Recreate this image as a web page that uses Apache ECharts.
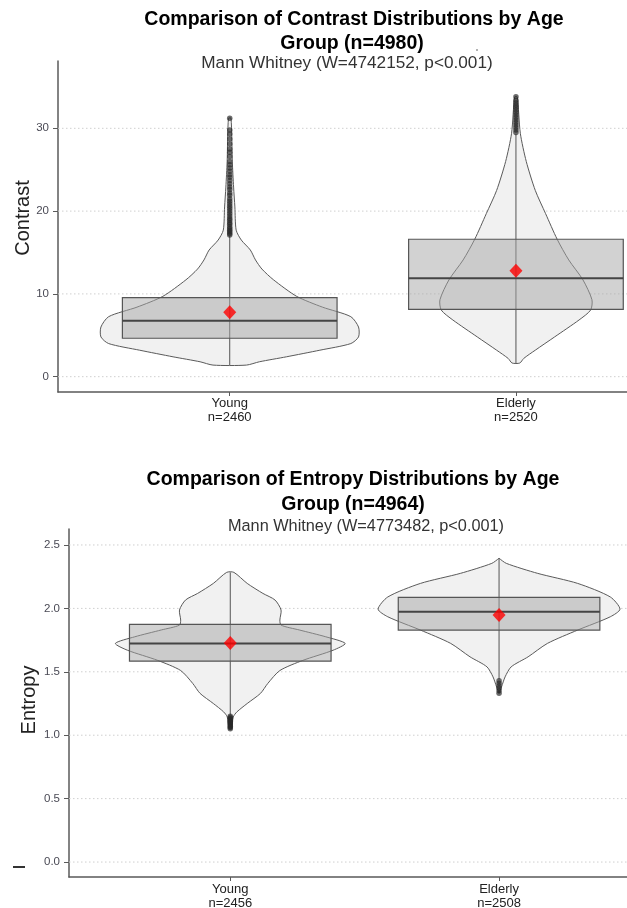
<!DOCTYPE html>
<html><head><meta charset="utf-8">
<script src="https://cdn.jsdelivr.net/npm/echarts@6/dist/echarts.min.js"></script>
<style>html,body{margin:0;padding:0;background:#fff}#c{width:627px;height:908px}</style>
</head><body><div id="c"></div>
<script>
// ---------------- data ----------------
const groups = ['Young', 'Elderly'];
const contrastN = [2460, 2520];
const entropyN = [2456, 2508];
const contrastTicks = [0, 10, 20, 30];
const entropyTicks = [0, 0.5, 1.0, 1.5, 2.0, 2.5];

// box stats: [lowerWhisker, Q1, median, Q3, upperWhisker]
const contrastBoxYoung = [1.4, 4.64, 6.76, 9.54, 17.0];
const contrastBoxElderly = [1.65, 8.14, 11.9, 16.6, 29.3];
const contrastMean = [7.78, 12.8];
const entropyBoxYoung = [1.16, 1.584, 1.724, 1.874, 2.284];
const entropyBoxElderly = [1.44, 1.829, 1.973, 2.087, 2.395];
const entropyMean = [1.728, 1.947];

// outliers
const contrastOutYoung = [17.1, 17.3, 17.5, 17.7, 17.9, 18.1, 18.4, 18.6, 18.9, 19.1, 19.4, 19.7, 20.0, 20.3, 20.6, 20.9, 21.2, 21.5, 21.9, 22.2, 22.6, 22.9, 23.3, 23.7, 24.1, 24.4, 24.8, 25.2, 25.6, 26.0, 26.6, 27.1, 27.5, 28.1, 28.7, 29.3, 29.8, 31.2];
const contrastOutElderly = [29.5, 29.8, 30.1, 30.4, 30.7, 31.0, 31.3, 31.6, 31.9, 32.2, 32.5, 32.8, 33.1, 33.4, 33.8];
const entropyOutYoung = [1.15, 1.14, 1.13, 1.12, 1.11, 1.10, 1.09, 1.08, 1.07, 1.06, 1.05];
const entropyOutElderly = [1.43, 1.41, 1.39, 1.37, 1.35, 1.33];

// violin densities: [value, relative density]
const contrastViolinYoung = [[1.4,0.13],[1.8,0.23],[2.4,0.44],[3.2,0.70],[4.0,0.94],[4.8,1.0],[6.0,1.0],[7.25,0.94],[8.4,0.72],[9.7,0.52],[11.7,0.34],[13.0,0.25],[14.1,0.2],[15.3,0.16],[16.5,0.09],[17.7,0.05],[20.5,0.04],[22.9,0.03],[26.0,0.02],[31.2,0.01]];
const contrastViolinElderly = [[1.65,0.03],[2.2,0.06],[3.2,0.15],[4.8,0.30],[6.85,0.49],[8.05,0.58],[9.3,0.59],[11.7,0.52],[14.1,0.41],[16.6,0.32],[19.7,0.23],[22.5,0.15],[26.0,0.08],[29.4,0.034],[33.8,0.01]];
const entropyViolinYoung = [[1.05,0.01],[1.144,0.025],[1.184,0.055],[1.25,0.14],[1.33,0.25],[1.408,0.31],[1.51,0.41],[1.59,0.6],[1.67,0.85],[1.724,0.95],[1.776,0.79],[1.83,0.57],[1.868,0.42],[1.908,0.41],[1.987,0.42],[2.066,0.37],[2.118,0.27],[2.197,0.14],[2.284,0.03]];
const entropyViolinElderly = [[1.33,0.0],[1.38,0.02],[1.46,0.05],[1.539,0.10],[1.618,0.24],[1.724,0.40],[1.829,0.65],[1.934,0.92],[1.994,1.0],[2.09,0.92],[2.197,0.65],[2.276,0.32],[2.355,0.06],[2.395,0.0]];

// ---------------- rendering ----------------
const FONT = "'Liberation Sans', Arial, sans-serif";
const chart = echarts.init(document.getElementById('c'), null, {renderer: 'canvas'});

function violinSeries(gi, densities) {
  return {
    type: 'custom', xAxisIndex: gi, yAxisIndex: gi, z: 2, silent: true,
    data: densities.map((d, i) => [i + 1]),
    renderItem: function (params, api) {
      const cx = api.value(0);
      const d = densities[params.dataIndex];
      const half = 0.45;
      const pts = [];
      for (let k = 0; k < d.length; k++) pts.push(api.coord([cx + d[k][1] * half, d[k][0]]));
      for (let k = d.length - 1; k >= 0; k--) pts.push(api.coord([cx - d[k][1] * half, d[k][0]]));
      return {type: 'polygon', shape: {points: pts, smooth: 0.25},
        style: {fill: '#f1f1f1', stroke: '#5a5a5a', lineWidth: 1}};
    }
  };
}
function boxSeries(gi, boxes) {
  return {
    type: 'custom', xAxisIndex: gi, yAxisIndex: gi, z: 3, silent: true,
    data: boxes.map((b, i) => [i + 1].concat(b)),
    renderItem: function (params, api) {
      const x = api.value(0);
      const lo = api.value(1), q1 = api.value(2), med = api.value(3), q3 = api.value(4), hi = api.value(5);
      const hw = 0.375;
      const pLo = api.coord([x, lo]), pHi = api.coord([x, hi]);
      const tl = api.coord([x - hw, q3]), br = api.coord([x + hw, q1]);
      const ml = api.coord([x - hw, med]), mr = api.coord([x + hw, med]);
      return {type: 'group', children: [
        {type: 'line', shape: {x1: pLo[0], y1: pLo[1], x2: pHi[0], y2: pHi[1]}, style: {stroke: '#555', lineWidth: 1}},
        {type: 'rect', shape: {x: tl[0], y: tl[1], width: br[0] - tl[0], height: br[1] - tl[1]},
          style: {fill: 'rgba(165,165,165,0.5)', stroke: '#555', lineWidth: 1.2}},
        {type: 'line', shape: {x1: ml[0], y1: ml[1], x2: mr[0], y2: mr[1]}, style: {stroke: '#444', lineWidth: 2}}
      ]};
    }
  };
}
function gridSeries(gi, ticks) {
  return {
    type: 'custom', xAxisIndex: gi, yAxisIndex: gi, z: 1, silent: true,
    data: ticks.map(t => [t]),
    renderItem: function (params, api) {
      const v = api.value(0);
      const a = api.coord([0.4, v]), b = api.coord([2.7, v]);
      return {type: 'line', shape: {x1: a[0], y1: a[1], x2: b[0], y2: b[1]},
        style: {stroke: '#cfcfcf', lineWidth: 1, lineDash: [1.5, 2.5]}};
    }
  };
}
function outlierSeries(gi, outs) {
  const data = [];
  outs.forEach((arr, i) => arr.forEach(v => data.push([i + 1, v])));
  return {type: 'scatter', xAxisIndex: gi, yAxisIndex: gi, z: 4, silent: true,
    symbol: 'circle', symbolSize: 5.5, itemStyle: {color: 'rgba(40,40,40,0.85)'}, data: data};
}
function meanSeries(gi, means) {
  return {type: 'scatter', xAxisIndex: gi, yAxisIndex: gi, z: 5, silent: true,
    symbol: 'diamond', symbolSize: [13, 14], itemStyle: {color: '#ff0000'},
    data: means.map((m, i) => [i + 1, m])};
}

function xAxis(gi, ns, max, margin) {
  return {type: 'value', gridIndex: gi, min: 0.4, max: max,
    axisLine: {show: true, onZero: false, lineStyle: {color: '#5a5a5a', width: 1.5}},
    axisTick: {show: true, customValues: [1, 2], length: 4, lineStyle: {color: '#5a5a5a'}},
    axisLabel: {customValues: [1, 2], margin: margin, color: '#222', fontFamily: FONT, fontSize: 13, lineHeight: 14,
      formatter: v => groups[Math.round(v) - 1] + '\nn=' + ns[Math.round(v) - 1]},
    splitLine: {show: false}};
}
function yAxis(gi, min, max, ticks, dec) {
  return {type: 'value', gridIndex: gi, min: min, max: max,
    axisLine: {show: true, onZero: false, lineStyle: {color: '#5a5a5a', width: 1.5}},
    axisTick: {show: true, customValues: ticks, length: 5, lineStyle: {color: '#5a5a5a'}},
    axisLabel: {customValues: ticks, margin: 9, color: '#4a4a55', fontFamily: FONT, fontSize: 11.5,
      formatter: v => v.toFixed(dec)},
    splitLine: {show: false}};
}

function txt(x, y, s, size, weight, color, rot) {
  return {type: 'text', x: x, y: y, rotation: rot || 0, silent: true,
    style: {text: s, fontFamily: FONT, fontSize: size, fontWeight: weight, fill: color, align: 'center', verticalAlign: 'middle'}};
}

const option = {
  animation: false,
  backgroundColor: '#ffffff',
  grid: [
    {left: 58, top: 61, right: 0, height: 331, outerBoundsMode: 'none', containLabel: false},
    {left: 69, top: 529, right: 0, height: 348, outerBoundsMode: 'none', containLabel: false}
  ],
  xAxis: [xAxis(0, contrastN, 2.388, 4), xAxis(1, entropyN, 2.476, 5)],
  yAxis: [yAxis(0, -1.85, 38.13, contrastTicks, 0), yAxis(1, -0.118, 2.626, entropyTicks, 1)],
  series: [
    gridSeries(0, contrastTicks),
    violinSeries(0, [contrastViolinYoung, contrastViolinElderly]),
    boxSeries(0, [contrastBoxYoung, contrastBoxElderly]),
    outlierSeries(0, [contrastOutYoung, contrastOutElderly]),
    meanSeries(0, contrastMean),
    gridSeries(1, entropyTicks),
    violinSeries(1, [entropyViolinYoung, entropyViolinElderly]),
    boxSeries(1, [entropyBoxYoung, entropyBoxElderly]),
    outlierSeries(1, [entropyOutYoung, entropyOutElderly]),
    meanSeries(1, entropyMean)
  ],
  graphic: [
    txt(354, 20, 'Comparison of Contrast Distributions by Age', 19.5, 'bold', '#000'),
    txt(352, 44, 'Group (n=4980)', 19.5, 'bold', '#000'),
    txt(347, 63, 'Mann Whitney (W=4742152, p<0.001)', 17.2, 'normal', '#333'),
    txt(23, 218, 'Contrast', 20, 'normal', '#222', Math.PI / 2),
    txt(353, 480, 'Comparison of Entropy Distributions by Age', 19.5, 'bold', '#000'),
    txt(353, 505, 'Group (n=4964)', 19.5, 'bold', '#000'),
    txt(366, 527, 'Mann Whitney (W=4773482, p<0.001)', 16.3, 'normal', '#333'),
    txt(29, 700, 'Entropy', 20, 'normal', '#222', Math.PI / 2),
    {type: 'rect', silent: true, shape: {x: 13, y: 866, width: 12, height: 2}, style: {fill: '#333'}},
    {type: 'circle', silent: true, shape: {cx: 477, cy: 50, r: 1}, style: {fill: '#999'}}
  ]
};
chart.setOption(option);
</script>
</body></html>
